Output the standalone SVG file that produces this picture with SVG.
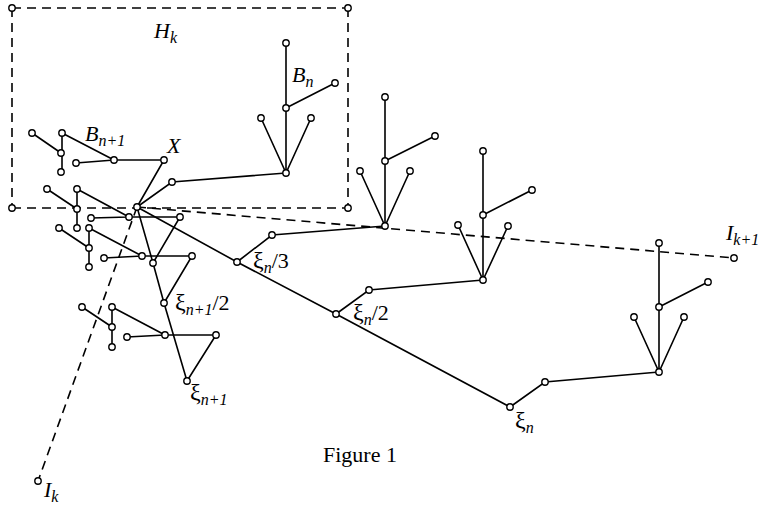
<svg xmlns="http://www.w3.org/2000/svg" width="759" height="508" viewBox="0 0 759 508">
<style>
.e{stroke:#000;stroke-width:1.6;fill:none;stroke-linecap:round}
.d{stroke:#000;stroke-width:1.6;fill:none;stroke-dasharray:9,6}
.n{fill:#fff;stroke:#000;stroke-width:1.4}
.t{font-family:"Liberation Serif",serif;font-style:italic;font-size:22px;fill:#000}
.s{font-size:16px}
.u{font-style:normal}
.f{font-family:"Liberation Serif",serif;font-size:22px;fill:#000}
</style>
<defs><circle id="c" r="3.2" class="n"/></defs>
<g id="connectors">
<path class="d" d="M12,8H348M12,8V208M348,8V208M12,208H348"/>
<path class="d" d="M137,207L734,258M137,207L38,481"/>
<path class="e" d="M32,133L61,153M62,133V172M62,133L114,160M76,163L114,160L164,160L137,207"/>
<path class="e" d="M47,189L77,209M77,189V228M77,189L129,217M91,218L129,217L180,217L153,263"/>
<path class="e" d="M59,228L89,248M89,228V267M89,228L142,256M104,258L142,256L192,256L164,303"/>
<path class="e" d="M82,307L112,327M112,307V347M112,307L165,335M127,337L165,335L216,335L187,381"/>
<path class="e" d="M137,207L153,263L164,303L187,381"/>
<path class="e" d="M137,207L237,262L336,314L510,407"/>
<path class="e" d="M137,207L172,182L286,173M286,173V43M286,108L335,83M286,173L261,118M286,173L311,118"/>
<path class="e" d="M237,262L272,235L385,226M385,226V97M385,161L435,136M385,226L360,171M385,226L410,171"/>
<path class="e" d="M336,314L369,290L483,280M483,280V151M483,215L532,190M483,280L458,225M483,280L508,226"/>
<path class="e" d="M510,407L545,382L659,372M659,372V243M659,307L708,282M659,372L634,317M659,372L684,317"/>
</g>
<g id="nodes">
<g id="box"><use href="#c" x="12" y="8"/><use href="#c" x="348" y="8"/><use href="#c" x="12" y="208"/><use href="#c" x="348" y="208"/></g>
<g id="ends"><use href="#c" x="734" y="258"/><use href="#c" x="38" y="481"/></g>
<g id="cl-a"><use href="#c" x="32" y="133"/><use href="#c" x="62" y="133"/><use href="#c" x="61" y="153"/><use href="#c" x="61" y="172"/><use href="#c" x="76" y="163"/><use href="#c" x="114" y="160"/><use href="#c" x="164" y="160"/></g>
<g id="cl-c"><use href="#c" x="47" y="189"/><use href="#c" x="77" y="189"/><use href="#c" x="77" y="209"/><use href="#c" x="77" y="228"/><use href="#c" x="91" y="218"/><use href="#c" x="129" y="217"/><use href="#c" x="180" y="217"/></g>
<g id="cl-d"><use href="#c" x="59" y="228"/><use href="#c" x="89" y="228"/><use href="#c" x="89" y="248"/><use href="#c" x="89" y="267"/><use href="#c" x="104" y="258"/><use href="#c" x="142" y="256"/><use href="#c" x="192" y="256"/></g>
<g id="cl-f"><use href="#c" x="82" y="307"/><use href="#c" x="112" y="307"/><use href="#c" x="112" y="327"/><use href="#c" x="112" y="347"/><use href="#c" x="127" y="337"/><use href="#c" x="165" y="335"/><use href="#c" x="216" y="335"/></g>
<g id="X"><use href="#c" x="137" y="207"/></g>
<g id="chain1"><use href="#c" x="153" y="263"/><use href="#c" x="164" y="303"/><use href="#c" x="187" y="381"/></g>
<g id="chain2"><use href="#c" x="237" y="262"/><use href="#c" x="336" y="314"/><use href="#c" x="510" y="407"/></g>
<g id="tree-bn"><use href="#c" x="172" y="182"/><use href="#c" x="286" y="173"/><use href="#c" x="286" y="108"/><use href="#c" x="286" y="43"/><use href="#c" x="335" y="83"/><use href="#c" x="261" y="118"/><use href="#c" x="311" y="118"/></g>
<g id="tree2"><use href="#c" x="272" y="235"/><use href="#c" x="385" y="226"/><use href="#c" x="385" y="161"/><use href="#c" x="385" y="97"/><use href="#c" x="435" y="136"/><use href="#c" x="360" y="171"/><use href="#c" x="410" y="171"/></g>
<g id="tree3"><use href="#c" x="369" y="290"/><use href="#c" x="483" y="280"/><use href="#c" x="483" y="215"/><use href="#c" x="483" y="151"/><use href="#c" x="532" y="190"/><use href="#c" x="458" y="225"/><use href="#c" x="508" y="226"/></g>
<g id="tree4"><use href="#c" x="545" y="382"/><use href="#c" x="659" y="372"/><use href="#c" x="659" y="307"/><use href="#c" x="659" y="243"/><use href="#c" x="708" y="282"/><use href="#c" x="634" y="317"/><use href="#c" x="684" y="317"/></g>
</g>
<g id="labels">
<text class="t" x="154" y="38">H<tspan class="s" dy="5">k</tspan></text>
<text class="t" x="292" y="82">B<tspan class="s" dy="5">n</tspan></text>
<text class="t" x="85" y="141">B<tspan class="s" dy="5">n+1</tspan></text>
<text class="t" x="167" y="153">X</text>
<text class="t" x="253" y="268"><tspan class="u" font-size="24">ξ</tspan><tspan class="s" dy="5">n</tspan><tspan class="u" dy="-5">/3</tspan></text>
<text class="t" x="353" y="320"><tspan class="u" font-size="24">ξ</tspan><tspan class="s" dy="5">n</tspan><tspan class="u" dy="-5">/2</tspan></text>
<text class="t" x="515" y="428"><tspan class="u" font-size="24">ξ</tspan><tspan class="s" dy="5">n</tspan></text>
<text class="t" x="175" y="310"><tspan class="u" font-size="24">ξ</tspan><tspan class="s" dy="5">n+1</tspan><tspan class="u" dy="-5">/2</tspan></text>
<text class="t" x="190" y="400"><tspan class="u" font-size="24">ξ</tspan><tspan class="s" dy="5">n+1</tspan></text>
<text class="t" x="44" y="497">I<tspan class="s" dy="5">k</tspan></text>
<text class="t" x="726" y="240">I<tspan class="s" dy="5">k+1</tspan></text>
<text class="f" x="323" y="462">Figure 1</text>
</g>
</svg>
